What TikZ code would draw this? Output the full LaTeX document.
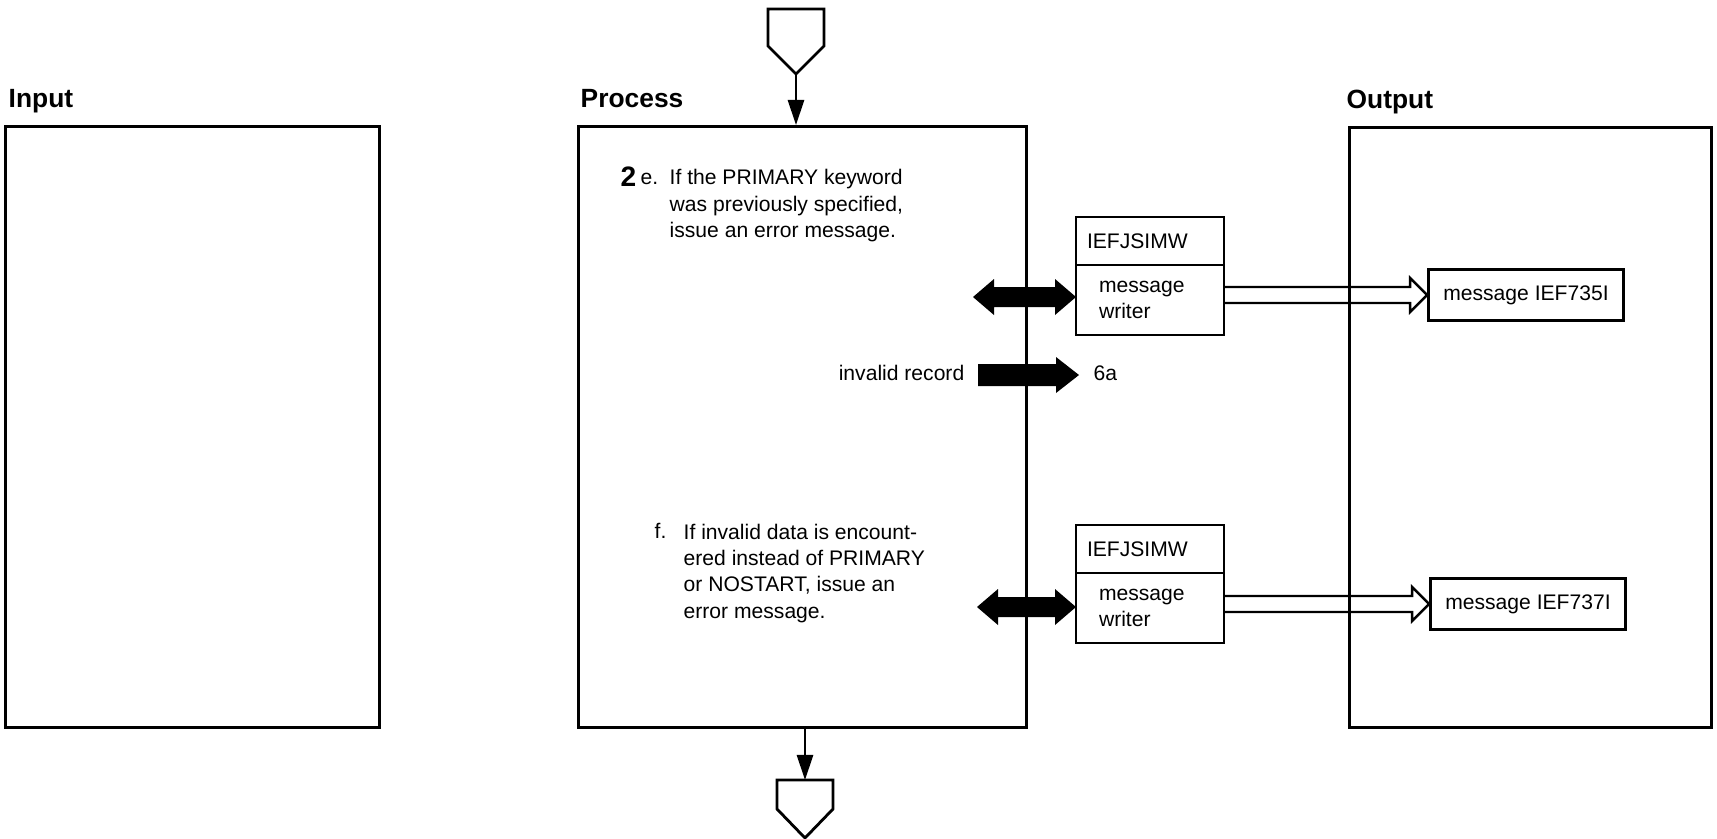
\documentclass[tikz,border=0pt]{standalone}
\usepackage{fontspec}
\setmainfont{Liberation Sans}
\usetikzlibrary{positioning,arrows.meta,calc}

% solid block arrow, pointing right, from #1 to #2
\newcommand{\blockarrow}[2]{%
	\fill ($(#1)+(0,-11)$) -- ($(#2)+(-23,-11)$) -- ($(#2)+(-23,-18)$) -- (#2)
	-- ($(#2)+(-23,18)$) -- ($(#2)+(-23,11)$) -- ($(#1)+(0,11)$) -- cycle;}
% solid block arrow with a head at both ends
\newcommand{\blockarrowboth}[2]{%
	\fill (#1) -- ($(#1)+(21,-18)$) -- ($(#1)+(21,-10)$) -- ($(#2)+(-21,-10)$)
	-- ($(#2)+(-21,-18)$) -- (#2) -- ($(#2)+(-21,18)$) -- ($(#2)+(-21,10)$)
	-- ($(#1)+(21,10)$) -- ($(#1)+(21,18)$) -- cycle;}
% outlined arrow, open at its tail
\newcommand{\openarrow}[2]{%
	\draw[line width = 0.7pt] ($(#1)+(0,-8)$) -- ($(#2)+(-17,-8)$) -- ($(#2)+(-17,-17)$)
	-- (#2) -- ($(#2)+(-17,17)$) -- ($(#2)+(-17,8)$) -- ($(#1)+(0,8)$);}

\begin{document}
\begin{tikzpicture}[
	x = 0.01cm, y = -0.01cm,  % one unit per pixel, y downwards
	frame/.style = {draw, line width = 0.8pt, inner sep = 0pt, anchor = north west},
	title/.style = {font = \bfseries\fontsize{7.5}{9}\selectfont, anchor = base west, inner sep = 0pt},
	body/.style = {font = \fontsize{6}{7.5}\selectfont, inner sep = 0pt, align = left},
	num/.style = {font = \bfseries\fontsize{8}{9}\selectfont, anchor = base west, inner sep = 0pt},
	modbox/.style = {draw, line width = 0.7pt, outer sep = 0pt, font = \fontsize{6}{7.5}\selectfont,
		minimum height = 0.48cm, text width = 1.26cm, inner xsep = 0.11cm, inner ysep = 0pt, align = left},
	wrbox/.style = {draw, line width = 0.7pt, outer sep = 0pt, font = \fontsize{6}{7.5}\selectfont,
		minimum height = 0.70cm, text width = 1.02cm, inner xsep = 0.23cm, inner ysep = 0pt, align = left},
	msgbox/.style = {draw, line width = 0.7pt, font = \fontsize{6}{7.5}\selectfont,
		minimum width = 1.95cm, minimum height = 0.51cm},
	flow/.style = {line width = 0.8pt, -{Triangle[length = 0.25cm, width = 0.16cm]}}
	]
	\useasboundingbox (0,0) rectangle (1717,839);

	% the three columns
	\node[title] (tin) at (8,107) {Input};
	\node[frame, minimum width = 3.74cm, minimum height = 6.01cm] (inp) at (4,125) {};
	\node[title] (tproc) at (580,107) {Process};
	\node[frame, minimum width = 4.48cm, minimum height = 6.01cm] (proc) at (577,125) {};
	\node[title] (tout) at (1346,108) {Output};
	\node[frame, minimum width = 3.62cm, minimum height = 6.00cm] (outp) at (1348,126) {};

	% off-page connectors
	\coordinate (entry) at (796,74);
	\draw[line width = 0.8pt] (entry) -- ++(-28,-28) -- ++(0,-37) -- ++(56,0) -- ++(0,37) -- cycle;
	\draw[flow] (entry) -- (entry |- proc.north);
	\coordinate (exit) at (805,780);
	\draw[flow] (exit |- proc.south) -- (exit);
	\draw[line width = 0.8pt] (exit) -- ++(-28,0) -- ++(0,29) -- ++(28,29) -- ++(28,-29) -- ++(0,-29) -- cycle;

	% step 2e
	\node[num] (s2) at (620,186) {2};
	\node[body, anchor = base west] (le) at (640,184) {e.};
	\node[body, anchor = north west] (te) at (669,169)
		{If the PRIMARY keyword\\was previously specified,\\issue an error message.};
	\node[modbox, anchor = north west] (mod1) at (1076,217) {IEFJSIMW};
	\node[wrbox, below = 0pt of mod1] (wr1) {message\\writer};
	\node[msgbox] (msg1) at (1526,295) {message IEF735I};
	\coordinate (l1) at (973,297);
	\coordinate (l1e) at (l1 -| wr1.west);
	\blockarrowboth{l1}{l1e}
	\coordinate (w1) at (wr1.east |- msg1.west);
	\openarrow{w1}{msg1.west}

	% invalid record
	\node[body, anchor = base east] (inv) at (965,380) {invalid record};
	\node[body, anchor = base west] (to6a) at (1093,380) {6a};
	\coordinate (r1) at (978,375);
	\coordinate (r2) at (1079,375);
	\blockarrow{r1}{r2}

	% step 2f
	\node[body, anchor = base west] (lf) at (654,538) {f.};
	\node[body, anchor = north west] (tf) at (683,523)
		{If invalid data is encount-\\ered instead of PRIMARY\\or NOSTART, issue an\\error message.};
	\node[modbox, anchor = north west] (mod2) at (1076,525) {IEFJSIMW};
	\node[wrbox, below = 0pt of mod2] (wr2) {message\\writer};
	\node[msgbox] (msg2) at (1528,604) {message IEF737I};
	\coordinate (l2) at (977,607);
	\coordinate (l2e) at (l2 -| wr2.west);
	\blockarrowboth{l2}{l2e}
	\coordinate (w2) at (wr2.east |- msg2.west);
	\openarrow{w2}{msg2.west}
\end{tikzpicture}
\end{document}
